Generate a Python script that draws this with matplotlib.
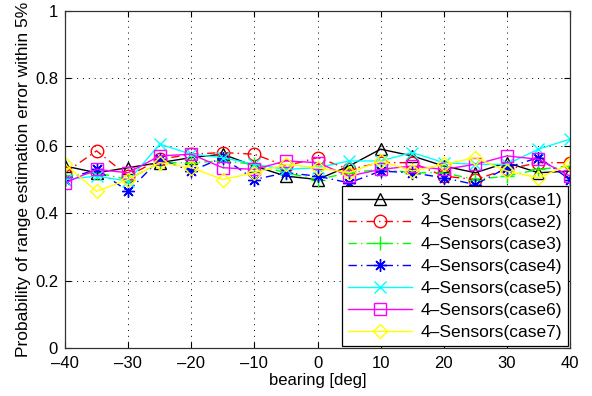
import numpy as np
import matplotlib
matplotlib.use("Agg")
import matplotlib.pyplot as plt

bearing = [-40, -35, -30, -25, -20, -15, -10, -5, 0, 5, 10, 15, 20, 25, 30, 35, 40]

case1 = [0.54, 0.52, 0.535, 0.55, 0.565, 0.575, 0.54, 0.51, 0.50, 0.54, 0.59, 0.57, 0.54, 0.52, 0.55, 0.52, 0.525]
case2 = [0.52, 0.585, 0.51, 0.56, 0.575, 0.58, 0.575, 0.54, 0.565, 0.53, 0.55, 0.55, 0.51, 0.50, 0.53, 0.55, 0.55]
case3 = [0.51, 0.52, 0.50, 0.55, 0.55, 0.555, 0.545, 0.52, 0.50, 0.52, 0.53, 0.52, 0.52, 0.50, 0.51, 0.53, 0.54]
case4 = [0.50, 0.53, 0.465, 0.56, 0.525, 0.565, 0.50, 0.52, 0.51, 0.49, 0.525, 0.52, 0.505, 0.485, 0.535, 0.565, 0.50]
case5 = [0.50, 0.51, 0.495, 0.605, 0.575, 0.565, 0.545, 0.53, 0.535, 0.555, 0.555, 0.58, 0.55, 0.545, 0.545, 0.59, 0.62]
case6 = [0.49, 0.53, 0.52, 0.57, 0.575, 0.535, 0.53, 0.555, 0.55, 0.51, 0.53, 0.54, 0.53, 0.545, 0.57, 0.56, 0.51]
case7 = [0.545, 0.465, 0.50, 0.55, 0.535, 0.50, 0.52, 0.545, 0.535, 0.52, 0.555, 0.525, 0.545, 0.565, 0.525, 0.505, 0.545]

labels = ["3\u2013Sensors(case1)", "4\u2013Sensors(case2)", "4\u2013Sensors(case3)",
          "4\u2013Sensors(case4)", "4\u2013Sensors(case5)", "4\u2013Sensors(case6)",
          "4\u2013Sensors(case7)"]

plt.rcParams["font.family"] = ["Liberation Sans", "DejaVu Sans"]

fig = plt.figure(figsize=(5.92, 3.96), dpi=100)
# axes box: x 65..570 px, y 11..348 px
ax = fig.add_axes([65 / 592, 1 - 348 / 396, 505 / 592, 337 / 396])

dashdot = (0, (6, 3, 1, 3))
series = [case1, case2, case3, case4, case5, case6, case7]
styles = [
    dict(color="black", ls="-", marker="^", ms=9),
    dict(color="red", ls=dashdot, marker="o", ms=9),
    dict(color="#00ff00", ls=dashdot, marker="+", ms=10),
    dict(color="blue", ls=dashdot, marker=(8, 2, 0), ms=9),
    dict(color="cyan", ls="-", marker="x", ms=8),
    dict(color="magenta", ls="-", marker="s", ms=8),
    dict(color="yellow", ls="-", marker="D", ms=7.5),
]

for ys, st, lab in zip(series, styles, labels):
    ax.plot(bearing, ys, lw=1.0, mfc="none", mew=1.0, label=lab, **st)

ax.set_xlim(-40, 40)
ax.set_ylim(0, 1)
ax.set_xticks(np.arange(-40, 41, 10))
ax.set_yticks(np.arange(0, 1.01, 0.2))
ax.set_yticklabels(["0", "0.2", "0.4", "0.6", "0.8", "1"])
ax.set_xticklabels([str(v).replace("-", "\u2013") for v in range(-40, 41, 10)])
ax.grid(True, color="black", ls=(0, (1, 5)), lw=0.7)
ax.tick_params(direction="in", top=True, right=True, labelsize=12, length=4, pad=5)
ax.tick_params(axis="x", pad=6)
for sp in ax.spines.values():
    sp.set_linewidth(0.9)
    sp.set_color("#333333")

ax.set_xlabel("bearing [deg]", fontsize=12, labelpad=1)
ax.set_ylabel("Probability of range estimation error within 5%", fontsize=12.5, labelpad=3)

leg = ax.legend(loc="lower right", fontsize=12.5, frameon=True, fancybox=False,
                edgecolor="black", framealpha=1, handlelength=3.7,
                borderaxespad=0.1, labelspacing=0.4, borderpad=0.35,
                handletextpad=0.5)
leg.get_frame().set_linewidth(0.9)

fig.savefig("out.png", dpi=100)
